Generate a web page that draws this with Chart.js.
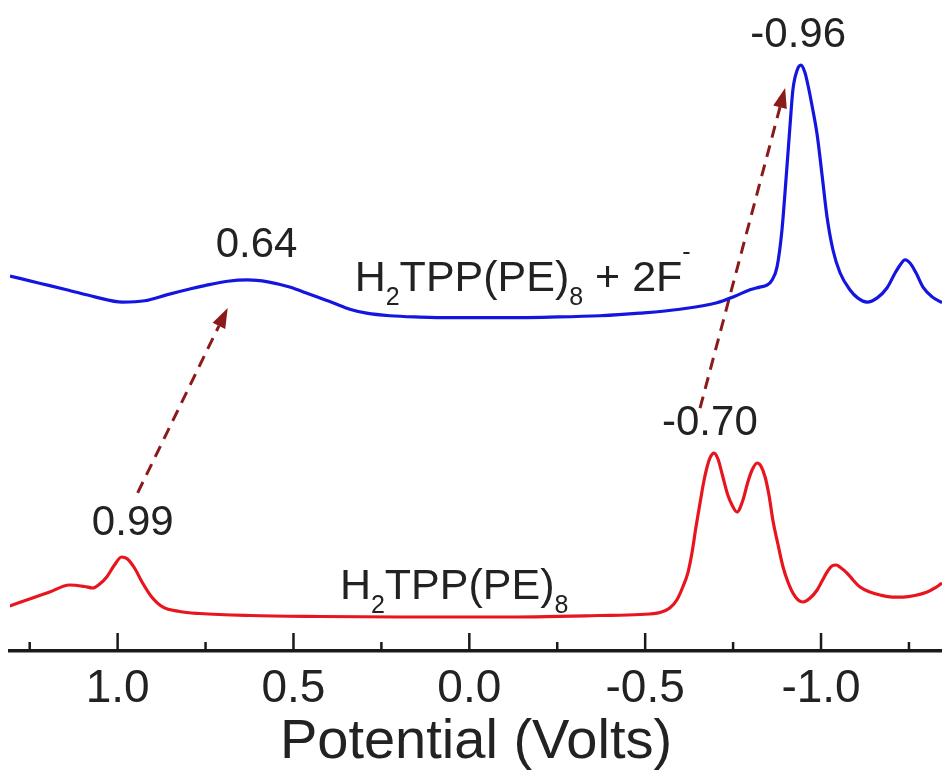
<!DOCTYPE html>
<html><head><meta charset="utf-8">
<script src="https://cdn.jsdelivr.net/npm/chart.js@4.4.0/dist/chart.umd.min.js"></script>
<style>html,body{margin:0;padding:0;background:#fff;} canvas{display:block}</style>
</head><body>
<canvas id="c" width="942" height="782"></canvas>
<script>
// ---------- data (x in Volts, y in arbitrary current units) ----------
const seriesNames = ['H₂TPP(PE)₈', 'H₂TPP(PE)₈ + 2F⁻'];

const redX = [1.307,1.242,1.193,1.137,1.094,1.071,1.051,1.031,1.009,0.989,0.972,0.952,0.929,0.903,0.872,0.824,0.767,0.624,0.425,0.198,-0.087,-0.371,-0.485,-0.542,-0.570,-0.590,-0.607,-0.622,-0.633,-0.644,-0.656,-0.667,-0.676,-0.684,-0.696,-0.707,-0.721,-0.735,-0.747,-0.761,-0.778,-0.792,-0.804,-0.818,-0.829,-0.841,-0.852,-0.863,-0.878,-0.892,-0.906,-0.920,-0.935,-0.949,-0.969,-0.989,-1.003,-1.017,-1.031,-1.043,-1.057,-1.074,-1.091,-1.111,-1.139,-1.168,-1.202,-1.233,-1.267,-1.302,-1.324,-1.344];
const redY = [6.91,8.14,9.06,10.14,9.91,9.68,10.29,11.37,13.21,14.44,14.13,12.75,10.44,8.29,6.76,6.07,5.76,5.45,5.30,5.22,5.22,5.45,5.61,5.91,6.60,7.83,9.83,12.13,15.05,18.89,22.73,26.11,28.26,29.64,30.41,29.49,26.73,23.96,22.43,21.35,23.19,25.96,27.80,28.88,28.42,26.73,23.96,20.12,16.28,12.90,10.60,8.91,7.83,7.53,8.14,9.37,10.75,12.13,13.06,13.21,12.75,11.98,10.91,9.83,9.06,8.60,8.29,8.29,8.52,9.06,9.68,10.44];

const blueX = [1.306,1.222,1.145,1.065,0.986,0.923,0.861,0.795,0.747,0.687,0.630,0.573,0.511,0.454,0.388,0.340,0.292,0.226,0.141,0.055,-0.087,-0.229,-0.371,-0.485,-0.599,-0.704,-0.755,-0.798,-0.826,-0.846,-0.861,-0.875,-0.889,-0.903,-0.912,-0.920,-0.932,-0.943,-0.954,-0.963,-0.974,-0.989,-1.003,-1.017,-1.034,-1.054,-1.082,-1.105,-1.131,-1.159,-1.188,-1.211,-1.225,-1.239,-1.253,-1.270,-1.290,-1.316,-1.344];
const blueY = [57.6,56.5,55.5,54.4,53.6,53.8,54.7,55.6,56.2,56.8,57.0,56.7,55.9,54.8,53.5,52.5,51.9,51.5,51.3,51.2,51.2,51.3,51.5,51.9,52.5,53.5,54.5,55.5,55.9,56.2,57.0,59.0,64.7,74.3,80.8,86.2,89.2,90.0,88.9,86.9,83.9,79.3,73.1,66.7,61.6,58.1,55.5,54.2,53.6,54.2,55.8,58.1,59.3,60.1,59.6,58.1,55.9,54.4,53.5];

const majorTicks = [1.0, 0.5, 0.0, -0.5, -1.0];
const majorTickLabels = ['1.0', '0.5', '0.0', '-0.5', '-1.0'];
const minorTicks = [1.25, 0.75, 0.25, -0.25, -0.75, -1.25];

const peakLabels = ['0.99', '0.64', '-0.70', '-0.96'];
const peakLabelX = [0.957, 0.605, -0.684, -0.935];
const peakLabelY = [17.8, 60.5, 33.2, 92.8];

// arrows: start and end in data units
const arrowStartX = [0.943, -0.656];
const arrowStartY = [24.3, 37.3];
const arrowEndX = [0.687, -0.898];
const arrowEndY = [52.7, 86.5];

// series name labels: left x, baseline y (data units)
const nameLabelX = [0.368, 0.326];
const nameLabelY = [8.0, 55.3];

// ---------- chart ----------
const FONT = '"Liberation Sans", Arial, sans-serif';
const TEXT = '#222';

const annot = {
  id: 'annot',
  beforeDatasetsDraw(chart) {
    const {ctx} = chart; const xs = chart.scales.x, ys = chart.scales.y;
    ctx.save();
    ctx.strokeStyle = '#8b1a1a'; ctx.fillStyle = '#8b1a1a';
    ctx.lineWidth = 3;
    for (let i = 0; i < arrowStartX.length; i++) {
      const x1 = xs.getPixelForValue(arrowStartX[i]), y1 = ys.getPixelForValue(arrowStartY[i]);
      const x2 = xs.getPixelForValue(arrowEndX[i]), y2 = ys.getPixelForValue(arrowEndY[i]);
      const ang = Math.atan2(y2 - y1, x2 - x1);
      const headLen = 20, headW = 7;
      const bx = x2 - headLen * Math.cos(ang), by = y2 - headLen * Math.sin(ang);
      ctx.setLineDash([12, 8]);
      ctx.beginPath(); ctx.moveTo(x1, y1); ctx.lineTo(bx, by); ctx.stroke();
      ctx.setLineDash([]);
      ctx.beginPath();
      ctx.moveTo(x2, y2);
      ctx.lineTo(bx + headW * Math.sin(ang), by - headW * Math.cos(ang));
      ctx.lineTo(bx - headW * Math.sin(ang), by + headW * Math.cos(ang));
      ctx.closePath(); ctx.fill();
    }
    ctx.restore();
  },
  afterDraw(chart) {
    const {ctx} = chart; const xs = chart.scales.x, ys = chart.scales.y;
    ctx.save();
    // inward tick marks
    const y0 = xs.top;
    ctx.strokeStyle = '#1a1a1a'; ctx.lineWidth = 2.5;
    majorTicks.forEach(v => { const p = xs.getPixelForValue(v); ctx.beginPath(); ctx.moveTo(p, y0); ctx.lineTo(p, y0 - 18); ctx.stroke(); });
    minorTicks.forEach(v => { const p = xs.getPixelForValue(v); ctx.beginPath(); ctx.moveTo(p, y0); ctx.lineTo(p, y0 - 9); ctx.stroke(); });
    // peak labels
    ctx.fillStyle = TEXT; ctx.textAlign = 'center'; ctx.textBaseline = 'alphabetic';
    ctx.font = '42px ' + FONT;
    peakLabels.forEach((t, i) => ctx.fillText(t, xs.getPixelForValue(peakLabelX[i]), ys.getPixelForValue(peakLabelY[i])));
    // series names with sub/superscripts
    const parts = [
      [['H','n'],['2','sub'],['TPP(PE)','n'],['8','sub']],
      [['H','n'],['2','sub'],['TPP(PE)','n'],['8','sub'],[' + 2F','n'],['-','sup']]
    ];
    ctx.textAlign = 'left';
    parts.forEach((segs, i) => {
      let x = xs.getPixelForValue(nameLabelX[i]); const base = ys.getPixelForValue(nameLabelY[i]);
      segs.forEach(([t, k]) => {
        let dy = 0;
        if (k === 'n') ctx.font = '43px ' + FONT;
        else { ctx.font = '25px ' + FONT; dy = k === 'sub' ? 14 : -31; }
        ctx.fillText(t, x, base + dy);
        x += ctx.measureText(t).width;
      });
    });
    ctx.restore();
  }
};

new Chart(document.getElementById('c'), {
  type: 'line',
  data: {
    datasets: [
      { label: seriesNames[0], data: redX.map((x, i) => ({x, y: redY[i]})), borderColor: '#e8141e', borderWidth: 3.2, pointRadius: 0, cubicInterpolationMode: 'monotone', fill: false },
      { label: seriesNames[1], data: blueX.map((x, i) => ({x, y: blueY[i]})), borderColor: '#1515e0', borderWidth: 3.2, pointRadius: 0, cubicInterpolationMode: 'monotone', fill: false }
    ]
  },
  options: {
    responsive: false, animation: false, devicePixelRatio: 1,
    layout: { padding: { left: 10, right: 0, top: 0, bottom: 0 } },
    plugins: { legend: { display: false }, tooltip: { enabled: false } },
    scales: {
      x: {
        type: 'linear', reverse: true, min: -1.344, max: 1.306,
        afterBuildTicks: (s) => { s.ticks = majorTicks.concat(minorTicks).sort((a, b) => a - b).map(v => ({value: v})); },
        afterFit: (s) => { s.height = 131; },
        grid: { display: false, drawTicks: false },
        border: { display: true, color: '#1a1a1a', width: 3.5 },
        ticks: {
          autoSkip: false, maxRotation: 0, padding: 11, color: TEXT,
          font: { family: FONT, size: 46 },
          callback: (v) => { const k = majorTicks.findIndex(m => Math.abs(m - v) < 1e-9); return k >= 0 ? majorTickLabels[k] : ''; }
        },
        title: { display: true, text: 'Potential (Volts)', color: TEXT, font: { family: FONT, size: 56 }, padding: { top: 0, bottom: 6 } }
      },
      y: { type: 'linear', display: false, min: 0, max: 100 }
    }
  },
  plugins: [annot]
});
</script>
</body></html>
